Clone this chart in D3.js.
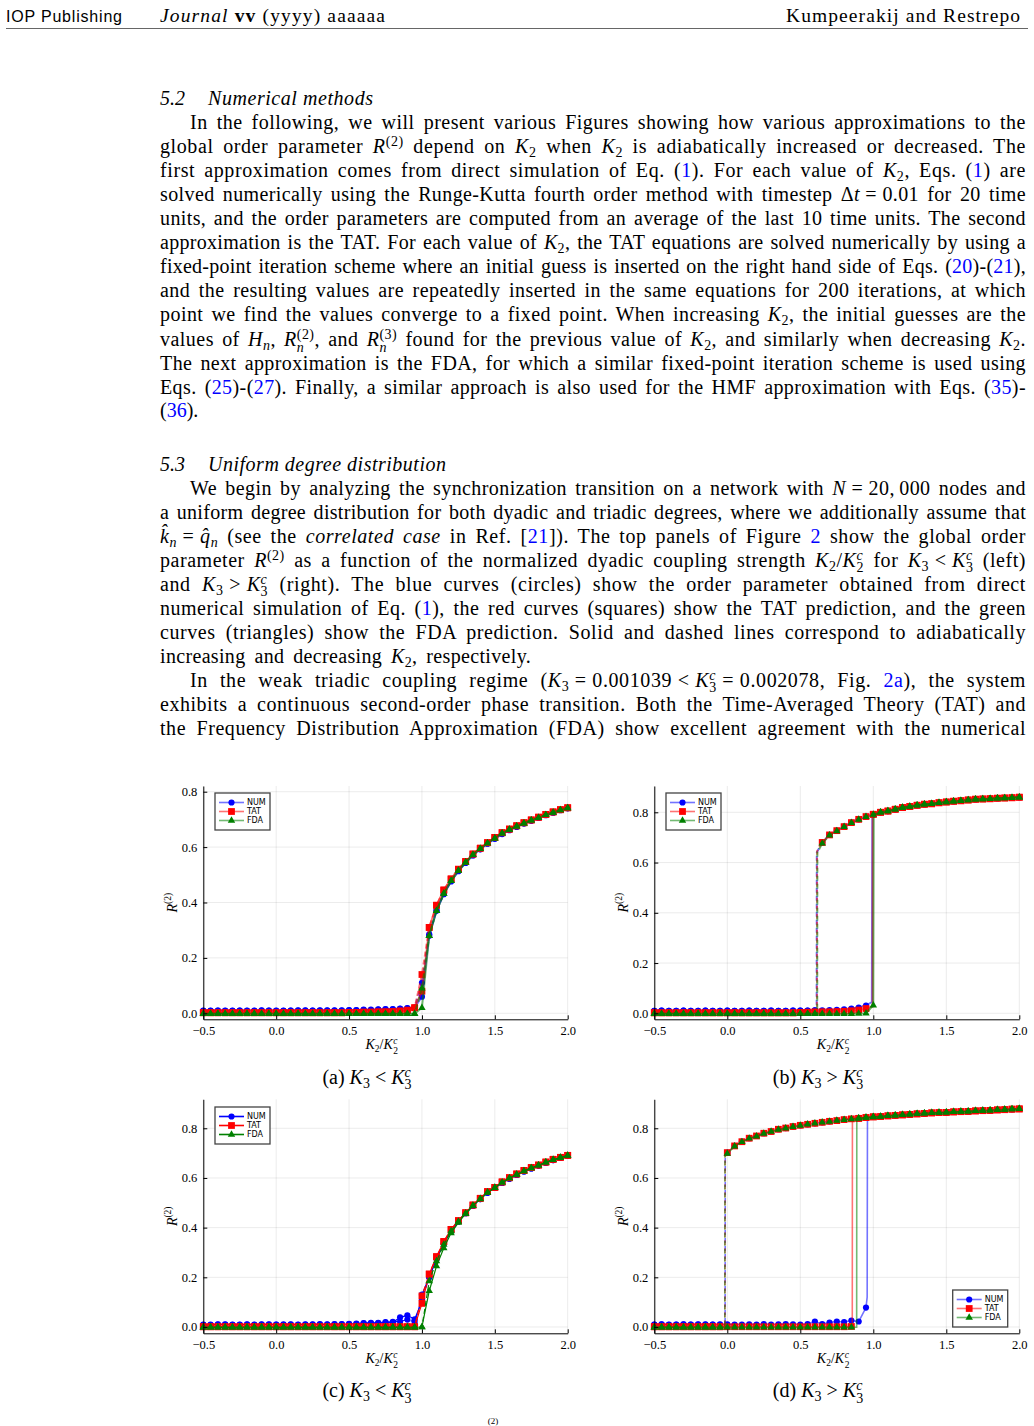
<!DOCTYPE html>
<html>
<head>
<meta charset="utf-8">
<title>Figure 2 – uniform degree distribution</title>
<script src="https://cdn.jsdelivr.net/npm/d3@7"></script>
<style>
  html, body { margin: 0; padding: 0; background: #fff; }
  #page { position: relative; width: 1034px; height: 1426px; overflow: hidden; }
  #page svg { position: absolute; left: 0; top: 0; }
  .ln { position: absolute; white-space: nowrap; font-family: "Liberation Serif", serif; font-size: 20px; line-height: 24px; color: #000; }
  .ln sub { font-size: 0.7em; vertical-align: -0.3em; line-height: 0; }
  .ln sup { font-size: 0.7em; vertical-align: 0.5em; line-height: 0; }
  .ss { display: inline-block; font-size: 0.7em; line-height: 0.9; vertical-align: -0.4em; }
  .ss > span { display: block; }
  .bm { display: inline-block; width: 0; height: 0; }
  .ln a { color: #0000ff; }
</style>
</head>
<body>
<div id="page"></div>
<script>
// ---- data ----
const K_GRID = [-0.5,-0.45,-0.4,-0.35,-0.3,-0.25,-0.2,-0.15,-0.1,-0.05,0,0.05,0.1,0.15,0.2,0.25,0.3,0.35,0.4,0.45,0.5,0.55,0.6,0.65,0.7,0.75,0.8,0.85,0.9,0.95,1,1.05,1.1,1.15,1.2,1.25,1.3,1.35,1.4,1.45,1.5,1.55,1.6,1.65,1.7,1.75,1.8,1.85,1.9,1.95,2];
const X_TICKS = [-0.5, 0, 0.5, 1, 1.5, 2];
const Y_TICKS = [0, 0.2, 0.4, 0.6, 0.8];
const METHOD_NAMES = ["NUM", "TAT", "FDA"];

// (a) K3 < K3c
const numIncA = [0.010,0.009,0.010,0.010,0.009,0.010,0.010,0.009,0.010,0.010,
  0.010,0.009,0.010,0.010,0.011,0.010,0.010,0.011,0.010,0.011,
  0.011,0.012,0.012,0.013,0.014,0.014,0.015,0.017,0.018,0.021,
  0.06,
  0.28,0.37,0.43,0.476,0.513,0.543,0.57,0.592,0.612,0.63,
  0.647,0.661,0.673,0.685,0.695,0.705,0.715,0.724,0.733,0.74];
const numDecA = [0.009,0.010,0.010,0.009,0.010,0.010,0.009,0.010,0.011,0.010,
  0.009,0.010,0.010,0.011,0.010,0.010,0.011,0.010,0.011,0.010,
  0.012,0.011,0.013,0.012,0.013,0.015,0.014,0.016,0.019,0.020,
  0.11,
  0.285,0.372,0.432,0.478,0.514,0.544,0.571,0.593,0.613,0.631,
  0.648,0.662,0.674,0.686,0.696,0.706,0.716,0.725,0.734,0.741];
const tatIncA = [0.002,0.002,0.002,0.002,0.002,0.002,0.002,0.002,0.002,0.002,
  0.002,0.002,0.002,0.002,0.002,0.002,0.002,0.002,0.002,0.002,
  0.003,0.003,0.004,0.004,0.005,0.005,0.006,0.008,0.011,0.020,
  0.08,
  0.31,0.39,0.445,0.485,0.52,0.548,0.575,0.596,0.616,0.635,
  0.652,0.665,0.677,0.688,0.698,0.708,0.718,0.727,0.735,0.742];
const tatDecA = [0.002,0.002,0.002,0.002,0.002,0.002,0.002,0.002,0.002,0.002,
  0.002,0.002,0.002,0.002,0.002,0.002,0.002,0.002,0.002,0.002,
  0.003,0.003,0.004,0.004,0.005,0.005,0.006,0.008,0.011,0.020,
  0.14,
  0.31,0.39,0.445,0.485,0.52,0.548,0.575,0.596,0.616,0.635,
  0.652,0.665,0.677,0.688,0.698,0.708,0.718,0.727,0.735,0.742];
const fdaIncA = [-0.002,-0.002,-0.002,-0.002,-0.002,-0.002,-0.002,-0.002,-0.002,-0.002,
  -0.002,-0.002,-0.002,-0.002,-0.002,-0.002,-0.002,-0.002,-0.002,-0.002,
  -0.002,-0.002,-0.002,-0.002,-0.002,-0.002,-0.002,-0.002,-0.002,-0.002,
  0.02,
  0.28,0.37,0.432,0.478,0.515,0.545,0.572,0.594,0.614,0.632,
  0.65,0.663,0.675,0.686,0.697,0.706,0.716,0.725,0.734,0.741];
const fdaDecA = [-0.002,-0.002,-0.002,-0.002,-0.002,-0.002,-0.002,-0.002,-0.002,-0.002,
  -0.002,-0.002,-0.002,-0.002,-0.002,-0.002,-0.002,-0.002,-0.002,-0.002,
  -0.002,-0.002,-0.002,-0.002,-0.002,-0.002,-0.002,-0.002,-0.002,-0.002,
  0.09,
  0.28,0.37,0.432,0.478,0.515,0.545,0.572,0.594,0.614,0.632,
  0.65,0.663,0.675,0.686,0.697,0.706,0.716,0.725,0.734,0.741];

// (b) K3 > K3c
const numIncB = [0.010,0.011,0.010,0.010,0.011,0.010,0.010,0.011,0.010,0.010,
  0.011,0.010,0.010,0.011,0.010,0.010,0.011,0.010,0.010,0.011,
  0.011,0.011,0.012,0.012,0.013,0.014,0.016,0.019,0.023,0.031,
  0.792,
  0.8,0.805,0.812,0.819,0.823,0.828,0.832,0.834,0.838,0.841,
  0.844,0.846,0.849,0.852,0.853,0.854,0.856,0.857,0.858,0.86];
const numIncBJump = [[0.99, 0.045], [0.993, 0.78]];
const tatIncB = [0.002,0.002,0.002,0.002,0.002,0.002,0.002,0.002,0.002,0.002,
  0.002,0.002,0.002,0.002,0.002,0.002,0.002,0.002,0.002,0.002,
  0.003,0.004,0.005,0.006,0.006,0.007,0.008,0.010,0.013,0.019,
  0.792,
  0.8,0.805,0.812,0.819,0.823,0.828,0.832,0.834,0.838,0.841,
  0.844,0.846,0.849,0.852,0.853,0.854,0.856,0.857,0.858,0.86];
const tatIncBJump = [[0.995, 0.027], [0.996, 0.785]];
const fdaIncB = [-0.002,-0.002,-0.002,-0.002,-0.002,-0.002,-0.002,-0.002,-0.002,-0.002,
  -0.002,-0.002,-0.002,-0.002,-0.002,-0.002,-0.002,-0.002,-0.002,-0.002,
  -0.002,-0.002,-0.002,-0.002,-0.002,-0.002,-0.002,-0.002,-0.001,0.000,
  0.032,
  0.8,0.805,0.812,0.819,0.823,0.828,0.832,0.834,0.838,0.841,
  0.844,0.846,0.849,0.852,0.853,0.854,0.856,0.857,0.858,0.86];
const fdaIncBJump = [[1.003, 0.79]];
const numDecB = [0.010,0.011,0.010,0.010,0.011,0.010,0.010,0.011,0.010,0.010,
  0.011,0.010,0.010,0.011,0.010,0.010,0.011,0.010,0.010,0.011,
  0.011,0.011,0.012,
  0.68,0.71,0.727,0.743,0.759,0.772,0.783,
  0.792,
  0.8,0.805,0.812,0.819,0.823,0.828,0.832,0.834,0.838,0.841,
  0.844,0.846,0.849,0.852,0.853,0.854,0.856,0.857,0.858,0.86];
const numDecBJump = [[0.612, 0.012], [0.613, 0.64]];
const tatDecB = [0.002,0.002,0.002,0.002,0.002,0.002,0.002,0.002,0.002,0.002,
  0.002,0.002,0.002,0.002,0.002,0.002,0.002,0.002,0.002,0.002,
  0.003,0.004,0.005,
  0.68,0.71,0.727,0.743,0.759,0.772,0.783,
  0.792,
  0.8,0.805,0.812,0.819,0.823,0.828,0.832,0.834,0.838,0.841,
  0.844,0.846,0.849,0.852,0.853,0.854,0.856,0.857,0.858,0.86];
const tatDecBJump = [[0.614, 0.005], [0.615, 0.645]];
const fdaDecB = [-0.002,-0.002,-0.002,-0.002,-0.002,-0.002,-0.002,-0.002,-0.002,-0.002,
  -0.002,-0.002,-0.002,-0.002,-0.002,-0.002,-0.002,-0.002,-0.002,-0.002,
  -0.002,-0.002,-0.002,
  0.676,0.708,0.725,0.742,0.758,0.771,0.782,
  0.791,
  0.8,0.805,0.812,0.819,0.823,0.828,0.832,0.834,0.838,0.841,
  0.844,0.846,0.849,0.852,0.853,0.854,0.856,0.857,0.858,0.86];
const fdaDecBJump = [[0.616, -0.002], [0.617, 0.64]];

// (c) K3 < K3c
const numIncC = [0.010,0.008,0.010,0.011,0.009,0.010,0.010,0.009,0.011,0.010,
  0.010,0.009,0.011,0.010,0.010,0.011,0.010,0.011,0.012,0.011,
  0.012,0.014,0.016,0.015,0.017,0.020,0.018,0.039,0.047,0.031,
  0.13,
  0.2,0.275,0.335,0.385,0.425,0.458,0.488,0.515,0.54,0.56,
  0.58,0.597,0.612,0.626,0.638,0.65,0.661,0.672,0.681,0.69];
const numIncCJump = [[0.98, 0.075]];
const numDecC = [0.009,0.010,0.011,0.010,0.010,0.009,0.011,0.010,0.010,0.011,
  0.010,0.011,0.010,0.009,0.011,0.010,0.012,0.010,0.011,0.012,
  0.013,0.012,0.015,0.017,0.016,0.018,0.021,0.022,0.030,0.020,
  0.11,
  0.2,0.275,0.335,0.385,0.425,0.458,0.488,0.515,0.54,0.56,
  0.58,0.597,0.612,0.626,0.638,0.65,0.661,0.672,0.681,0.69];
const tatIncC = [0.001,0.001,0.001,0.001,0.001,0.001,0.001,0.001,0.001,0.001,
  0.001,0.001,0.001,0.001,0.001,0.001,0.001,0.001,0.001,0.001,
  0.001,0.001,0.001,0.001,0.001,0.001,0.001,0.001,0.001,0.001,
  0.095,
  0.213,0.283,0.344,0.393,0.428,0.46,0.491,0.518,0.545,0.562,
  0.584,0.601,0.616,0.63,0.642,0.652,0.664,0.675,0.683,0.691];
const tatDecC = [0.001,0.001,0.001,0.001,0.001,0.001,0.001,0.001,0.001,0.001,
  0.001,0.001,0.001,0.001,0.001,0.001,0.001,0.001,0.001,0.001,
  0.001,0.001,0.001,0.001,0.001,0.001,0.001,0.001,0.001,0.001,
  0.125,
  0.213,0.283,0.344,0.393,0.428,0.46,0.491,0.518,0.545,0.562,
  0.584,0.601,0.616,0.63,0.642,0.652,0.664,0.675,0.683,0.691];
const fdaIncC = [-0.001,-0.001,-0.001,-0.001,-0.001,-0.001,-0.001,-0.001,-0.001,-0.001,
  -0.001,-0.001,-0.001,-0.001,-0.001,-0.001,-0.001,-0.001,-0.001,-0.001,
  -0.001,-0.001,-0.001,-0.001,-0.001,-0.001,-0.001,-0.001,-0.001,-0.001,
  0.0,
  0.145,0.245,0.318,0.378,0.42,0.456,0.488,0.515,0.541,0.56,
  0.582,0.599,0.614,0.628,0.64,0.651,0.663,0.673,0.682,0.69];
const fdaDecC = [-0.001,-0.001,-0.001,-0.001,-0.001,-0.001,-0.001,-0.001,-0.001,-0.001,
  -0.001,-0.001,-0.001,-0.001,-0.001,-0.001,-0.001,-0.001,-0.001,-0.001,
  -0.001,-0.001,-0.001,-0.001,-0.001,-0.001,-0.001,-0.001,-0.001,-0.001,
  0.0,
  0.185,0.265,0.332,0.386,0.425,0.458,0.489,0.516,0.542,0.561,
  0.582,0.599,0.614,0.628,0.64,0.651,0.663,0.673,0.682,0.69];

// (d) K3 > K3c
const numIncD = [0.010,0.011,0.009,0.010,0.011,0.010,0.010,0.011,0.010,0.009,
  0.011,0.010,0.010,0.011,0.010,0.012,0.010,0.011,0.012,0.011,
  0.010,0.012,0.022,0.012,0.018,0.022,0.020,0.026,0.022,0.078,
  0.846,0.847,0.85,0.852,0.854,0.856,0.858,0.86,0.862,0.863,
  0.864,0.866,0.867,0.868,0.87,0.871,0.872,0.874,0.875,0.877,0.878];
const numIncDJump = [[0.958, 0.12], [0.96, 0.84]];
const tatIncD = [0.001,0.001,0.001,0.001,0.001,0.001,0.001,0.001,0.001,0.001,
  0.001,0.001,0.001,0.001,0.001,0.001,0.001,0.001,0.001,0.001,
  0.001,0.001,0.001,0.001,0.001,0.001,0.001,0.002,
  0.84,0.843,
  0.846,0.847,0.85,0.852,0.854,0.856,0.858,0.86,0.862,0.863,
  0.864,0.866,0.867,0.868,0.87,0.871,0.872,0.874,0.875,0.877,0.878];
const tatIncDJump = [[0.856, 0.002], [0.857, 0.838]];
const fdaIncD = [-0.001,-0.001,-0.001,-0.001,-0.001,-0.001,-0.001,-0.001,-0.001,-0.001,
  -0.001,-0.001,-0.001,-0.001,-0.001,-0.001,-0.001,-0.001,-0.001,-0.001,
  -0.001,-0.001,-0.001,-0.001,-0.001,-0.001,-0.001,-0.001,
  0.84,0.843,
  0.846,0.847,0.85,0.852,0.854,0.856,0.858,0.86,0.862,0.863,
  0.864,0.866,0.867,0.868,0.87,0.871,0.872,0.874,0.875,0.877,0.878];
const fdaIncDJump = [[0.886, -0.001], [0.887, 0.839]];
const numDecD = [0.010,0.011,0.010,0.010,0.011,0.010,0.011,0.010,0.010,0.011,
  0.702,0.729,0.746,0.76,0.769,0.78,0.787,0.796,0.801,0.807,
  0.812,0.816,0.82,0.824,0.828,0.831,0.835,0.838,0.84,0.843,
  0.846,0.847,0.85,0.852,0.854,0.856,0.858,0.86,0.862,0.863,
  0.864,0.866,0.867,0.868,0.87,0.871,0.872,0.874,0.875,0.877,0.878];
const numDecDJump = [[-0.015, 0.011], [-0.014, 0.68]];
const tatDecD = [0.001,0.001,0.001,0.001,0.001,0.001,0.001,0.001,0.001,0.001,
  0.702,0.729,0.746,0.76,0.769,0.78,0.787,0.796,0.801,0.807,
  0.812,0.816,0.82,0.824,0.828,0.831,0.835,0.838,0.84,0.843,
  0.846,0.847,0.85,0.852,0.854,0.856,0.858,0.86,0.862,0.863,
  0.864,0.866,0.867,0.868,0.87,0.871,0.872,0.874,0.875,0.877,0.878];
const tatDecDJump = [[-0.016, 0.002], [-0.015, 0.69]];
const fdaDecD = [-0.001,-0.001,-0.001,-0.001,-0.001,-0.001,-0.001,-0.001,-0.001,-0.001,
  0.698,0.727,0.745,0.759,0.768,0.779,0.787,0.795,0.8,0.806,
  0.811,0.816,0.82,0.824,0.827,0.831,0.834,0.837,0.84,0.843,
  0.845,0.847,0.85,0.852,0.854,0.856,0.858,0.86,0.862,0.863,
  0.864,0.866,0.867,0.868,0.87,0.871,0.872,0.874,0.875,0.877,0.878];
const fdaDecDJump = [[-0.017, -0.001], [-0.016, 0.685]];

// ---- page ----
const SERIF = "Liberation Serif";
const COLORS = ["#0000ff", "#ff0000", "#008000"];
const SYMBOLS = [[d3.symbolCircle, 30], [d3.symbolSquare, 46], [d3.symbolTriangle, 24]];

const page = d3.select("#page");
const svg = page.append("svg").attr("width", 1034).attr("height", 1426);

// running header
svg.append("text").attr("x", 6).attr("y", 22)
  .attr("font-family", "Liberation Sans").attr("font-size", 16)
  .attr("textLength", 116).attr("lengthAdjust", "spacing").text("IOP Publishing");
const jt = svg.append("text").attr("x", 160).attr("y", 22).style("white-space", "pre")
  .attr("font-family", SERIF).attr("font-size", 19.5).attr("textLength", 225);
jt.append("tspan").attr("font-style", "italic").text("Journal ");
jt.append("tspan").attr("font-weight", "bold").text("vv");
jt.append("tspan").text(" (yyyy) aaaaaa");
svg.append("text").attr("x", 1020).attr("y", 22).attr("text-anchor", "end")
  .attr("font-family", SERIF).attr("font-size", 19.5).attr("textLength", 234)
  .text("Kumpeerakij and Restrepo");
svg.append("line").attr("x1", 6).attr("x2", 1028).attr("y1", 28.5).attr("y2", 28.5)
  .attr("stroke", "#666").attr("stroke-width", 1);

// section headings
function heading(base, num, title, titleEnd) {
  svg.append("text").attr("x", 160).attr("y", base).attr("font-family", SERIF)
    .attr("font-size", 20).attr("font-style", "italic").text(num);
  svg.append("text").attr("x", 208).attr("y", base).attr("font-family", SERIF)
    .attr("font-size", 20).attr("font-style", "italic")
    .attr("textLength", titleEnd - 208).text(title);
}
heading(105, "5.2", "Numerical methods", 373);
heading(470.5, "5.3", "Uniform degree distribution", 446);

// body text, one div per printed line
const K = s => `<i>K</i><sub>${s}</sub>`;
const ss = (a, b) => `<span class="ss"><span>${a}</span><span>${b}</span></span>`;
const Kc = s => `<i>K</i>${ss("<i>c</i>", s)}`;
const R2 = `<i>R</i><sup>(2)</sup>`;
const lk = s => `<a>${s}</a>`;
const rel = s => `\u2005${s}\u2005`;

const textLines = [
  { x: 190, end: 1026, base: 129, html: `In the following, we will present various Figures showing how various approximations to the` },
  { x: 160, end: 1026, base: 153, html: `global order parameter ${R2} depend on ${K(2)} when ${K(2)} is adiabatically increased or decreased. The` },
  { x: 160, end: 1026, base: 177, html: `first approximation comes from direct simulation of Eq. (${lk(1)}). For each value of ${K(2)}, Eqs. (${lk(1)}) are` },
  { x: 160, end: 1026, base: 201, html: `solved numerically using the Runge-Kutta fourth order method with timestep Δ<i>t</i>${rel("=")}0.01 for 20 time` },
  { x: 160, end: 1026, base: 225, html: `units, and the order parameters are computed from an average of the last 10 time units. The second` },
  { x: 160, end: 1026, base: 248.5, html: `approximation is the TAT. For each value of ${K(2)}, the TAT equations are solved numerically by using a` },
  { x: 160, end: 1026, base: 272.5, html: `fixed-point iteration scheme where an initial guess is inserted on the right hand side of Eqs. (${lk(20)})-(${lk(21)}),` },
  { x: 160, end: 1026, base: 296.5, html: `and the resulting values are repeatedly inserted in the same equations for 200 iterations, at which` },
  { x: 160, end: 1026, base: 320.5, html: `point we find the values converge to a fixed point. When increasing ${K(2)}, the initial guesses are the` },
  { x: 160, end: 1026, base: 346, html: `values of <i>H</i><sub><i>n</i></sub>, <i>R</i>${ss("(2)", "<i>n</i>")}, and <i>R</i>${ss("(3)", "<i>n</i>")} found for the previous value of ${K(2)}, and similarly when decreasing ${K(2)}.` },
  { x: 160, end: 1026, base: 370, html: `The next approximation is the FDA, for which a similar fixed-point iteration scheme is used using` },
  { x: 160, end: 1026, base: 394, html: `Eqs. (${lk(25)})-(${lk(27)}). Finally, a similar approach is also used for the HMF approximation with Eqs. (${lk(35)})-` },
  { x: 160, end: null, base: 417, html: `(${lk(36)}).` },

  { x: 190, end: 1026, base: 494.5, html: `We begin by analyzing the synchronization transition on a network with <i>N</i>${rel("=")}20,\u2009000 nodes and` },
  { x: 160, end: 1026, base: 518.5, html: `a uniform degree distribution for both dyadic and triadic degrees, where we additionally assume that` },
  { x: 160, end: 1026, base: 542.5, html: `<i>k\u0302</i><sub><i>n</i></sub>${rel("=")}<i>q\u0302</i><sub><i>n</i></sub> (see the <i>correlated case</i> in Ref. [${lk(21)}]). The top panels of Figure ${lk(2)} show the global order` },
  { x: 160, end: 1026, base: 566.5, html: `parameter ${R2} as a function of the normalized dyadic coupling strength ${K(2)}/${Kc(2)} for ${K(3)}${rel("&lt;")}${Kc(3)} (left)` },
  { x: 160, end: 1026, base: 590.5, html: `and ${K(3)}${rel("&gt;")}${Kc(3)} (right). The blue curves (circles) show the order parameter obtained from direct` },
  { x: 160, end: 1026, base: 614.5, html: `numerical simulation of Eq. (${lk(1)}), the red curves (squares) show the TAT prediction, and the green` },
  { x: 160, end: 1026, base: 638.5, html: `curves (triangles) show the FDA prediction. Solid and dashed lines correspond to adiabatically` },
  { x: 160, end: 531, base: 662.5, html: `increasing and decreasing ${K(2)}, respectively.` },
  { x: 190, end: 1026, base: 686.5, html: `In the weak triadic coupling regime (${K(3)}${rel("=")}0.001039${rel("&lt;")}${Kc(3)}${rel("=")}0.002078, Fig. ${lk("2a")}), the system` },
  { x: 160, end: 1026, base: 710.5, html: `exhibits a continuous second-order phase transition. Both the Time-Averaged Theory (TAT) and` },
  { x: 160, end: 1026, base: 734.5, html: `the Frequency Distribution Approximation (FDA) show excellent agreement with the numerical` }
];

function placeLine(d) {
  const el = page.append("div").attr("class", "ln")
    .style("left", d.x + "px").style("top", "0px")
    .html('<span class="bm"></span>' + d.html);
  const node = el.node();
  const b = node.querySelector(".bm").getBoundingClientRect().top;
  el.style("top", (d.base - b) + "px");
  if (d.end) {
    const target = d.end - d.x;
    const chars = node.textContent.length;
    const spaces = (node.textContent.match(/ /g) || []).length;
    const w0 = node.getBoundingClientRect().width;
    const ls = Math.max(-0.4, Math.min(0.6, (target - w0) * 0.5 / chars));
    el.style("letter-spacing", ls + "px");
    const w1 = node.getBoundingClientRect().width;
    if (spaces) el.style("word-spacing", ((target - w1) / spaces) + "px");
  }
  return el;
}
textLines.forEach(placeLine);

// ---- panels ----
const panels = [
  { left: 203.3, right: 567.7, top: 786, bottom: 1019.3, yDomain: [-0.0217, 0.8206], alpha: 0.55, lw: 2,
    legend: [215, 793], caption: [367, 1083.5, `(a) ${K(3)}${rel("&lt;")}${Kc(3)}`],
    series: [[0, numIncA, [], false], [0, numDecA, [], true], [1, tatIncA, [], false], [1, tatDecA, [], true], [2, fdaIncA, [], false], [2, fdaDecA, [], true]] },
  { left: 654.3, right: 1019.3, top: 786, bottom: 1019.3, yDomain: [-0.0239, 0.9047], alpha: 0.55, lw: 2,
    legend: [666, 793], caption: [818, 1083.5, `(b) ${K(3)}${rel("&gt;")}${Kc(3)}`],
    series: [[0, numIncB, numIncBJump, false], [0, numDecB, numDecBJump, true], [1, tatIncB, tatIncBJump, false], [1, tatDecB, tatDecBJump, true], [2, fdaIncB, fdaIncBJump, false], [2, fdaDecB, fdaDecBJump, true]] },
  { left: 203.3, right: 567.7, top: 1099.3, bottom: 1333.3, yDomain: [-0.0254, 0.9167], alpha: 1, lw: 1.2,
    legend: [215, 1107], caption: [367, 1397, `(c) ${K(3)}${rel("&lt;")}${Kc(3)}`],
    series: [[0, numIncC, numIncCJump, false], [0, numDecC, [], true], [1, tatIncC, [], false], [1, tatDecC, [], true], [2, fdaIncC, [], false], [2, fdaDecC, [], true]] },
  { left: 654.3, right: 1019.3, top: 1099.3, bottom: 1333.3, yDomain: [-0.0254, 0.9167], alpha: 0.55, lw: 1.6,
    legend: [952.7, 1290], caption: [818, 1397, `(d) ${K(3)}${rel("&gt;")}${Kc(3)}`],
    series: [[0, numIncD, numIncDJump, false], [0, numDecD, numDecDJump, true], [1, tatIncD, tatIncDJump, false], [1, tatDecD, tatDecDJump, true], [2, fdaIncD, fdaIncDJump, false], [2, fdaDecD, fdaDecDJump, true]] }
];

function drawPanel(p) {
  const x = d3.scaleLinear().domain([-0.5, 2]).range([p.left, p.right]);
  const y = d3.scaleLinear().domain(p.yDomain).range([p.bottom, p.top]);
  const g = svg.append("g");

  // grid
  g.append("g").selectAll("line").data(X_TICKS).join("line")
    .attr("x1", d => x(d)).attr("x2", d => x(d)).attr("y1", p.top).attr("y2", p.bottom)
    .attr("stroke", "#000").attr("stroke-opacity", 0.1).attr("stroke-width", 0.8);
  g.append("g").selectAll("line").data(Y_TICKS).join("line")
    .attr("x1", p.left).attr("x2", p.right).attr("y1", d => y(d)).attr("y2", d => y(d))
    .attr("stroke", "#000").attr("stroke-opacity", 0.1).attr("stroke-width", 0.8);

  // curves and markers
  const line = d3.line().x(d => x(d[0])).y(d => y(d[1]));
  p.series.forEach(([m, ys, jump, dec]) => {
    const onGrid = K_GRID.map((k, i) => [k, ys[i]]);
    const pts = onGrid.concat(jump).sort((a, b) => a[0] - b[0]);
    g.append("path").attr("d", line(pts)).attr("fill", "none")
      .attr("stroke", COLORS[m]).attr("stroke-width", p.lw).attr("stroke-opacity", p.alpha)
      .attr("stroke-dasharray", dec ? "5,3" : null);
    g.append("g").selectAll("path").data(onGrid).join("path")
      .attr("transform", d => `translate(${x(d[0])},${y(d[1])})`)
      .attr("d", d3.symbol(SYMBOLS[m][0], SYMBOLS[m][1])())
      .attr("fill", COLORS[m]);
  });

  // axes
  const fmt = d3.format(".1f");
  g.append("g").attr("transform", `translate(0,${p.bottom})`)
    .call(d3.axisBottom(x).tickValues(X_TICKS).tickFormat(fmt).tickSize(-4).tickSizeOuter(0).tickPadding(7))
    .attr("font-family", SERIF).attr("font-size", 12.5).attr("color", "#000");
  g.append("g").attr("transform", `translate(${p.left},0)`)
    .call(d3.axisLeft(y).tickValues(Y_TICKS).tickFormat(fmt).tickSize(-4).tickSizeOuter(0).tickPadding(6))
    .attr("font-family", SERIF).attr("font-size", 12.5).attr("color", "#000");

  // axis titles (stacked super/subscript built from separate texts)
  const cx = (p.left + p.right) / 2, by = p.bottom + 30;
  const xt = g.append("text").attr("x", cx - 20).attr("y", by)
    .attr("font-family", SERIF).attr("font-size", 14);
  xt.append("tspan").attr("font-style", "italic").text("K");
  xt.append("tspan").attr("font-size", 9.5).attr("dy", 3).text("2");
  xt.append("tspan").attr("dy", -3).text("/");
  xt.append("tspan").attr("font-style", "italic").text("K");
  const xw = xt.node().getComputedTextLength();
  g.append("text").attr("x", cx - 20 + xw + 0.5).attr("y", by - 5.5)
    .attr("font-family", SERIF).attr("font-size", 9.5).attr("font-style", "italic").text("c");
  g.append("text").attr("x", cx - 20 + xw + 0.5).attr("y", by + 4.5)
    .attr("font-family", SERIF).attr("font-size", 9.5).text("2");

  const yt = g.append("text")
    .attr("transform", `translate(${p.left - 26.3},${(p.top + p.bottom) / 2}) rotate(-90)`)
    .attr("text-anchor", "middle").attr("font-family", SERIF).attr("font-size", 14);
  yt.append("tspan").attr("font-style", "italic").text("R");
  yt.append("tspan").attr("font-size", 9.5).attr("dy", -6).text("(2)");

  // legend
  const lg = g.append("g").attr("transform", `translate(${p.legend[0]},${p.legend[1]})`);
  lg.append("rect").attr("width", 55).attr("height", 37)
    .attr("fill", "#fff").attr("stroke", "#444").attr("stroke-width", 1.3);
  METHOD_NAMES.forEach((name, i) => {
    const yy = 9.5 + i * 9;
    lg.append("line").attr("x1", 4).attr("x2", 29).attr("y1", yy).attr("y2", yy)
      .attr("stroke", COLORS[i]).attr("stroke-width", 1.6).attr("stroke-opacity", p.alpha);
    lg.append("path").attr("transform", `translate(16.5,${yy})`)
      .attr("d", d3.symbol(SYMBOLS[i][0], SYMBOLS[i][1])()).attr("fill", COLORS[i]);
    lg.append("text").attr("x", 32).attr("y", yy).attr("dy", "0.35em")
      .attr("font-family", "DejaVu Sans").attr("font-size", 8).text(name);
  });

  // sub-caption
  const cap = placeLine({ x: 0, end: null, base: p.caption[1], html: p.caption[2] });
  const cw = cap.node().getBoundingClientRect().width;
  cap.style("left", (p.caption[0] - cw / 2) + "px");
}
panels.forEach(drawPanel);

// start of the next line, at the page edge
svg.append("text").attr("x", 493).attr("y", 1424).attr("text-anchor", "middle")
  .attr("font-family", SERIF).attr("font-size", 9).text("(2)");
</script>
</body>
</html>
